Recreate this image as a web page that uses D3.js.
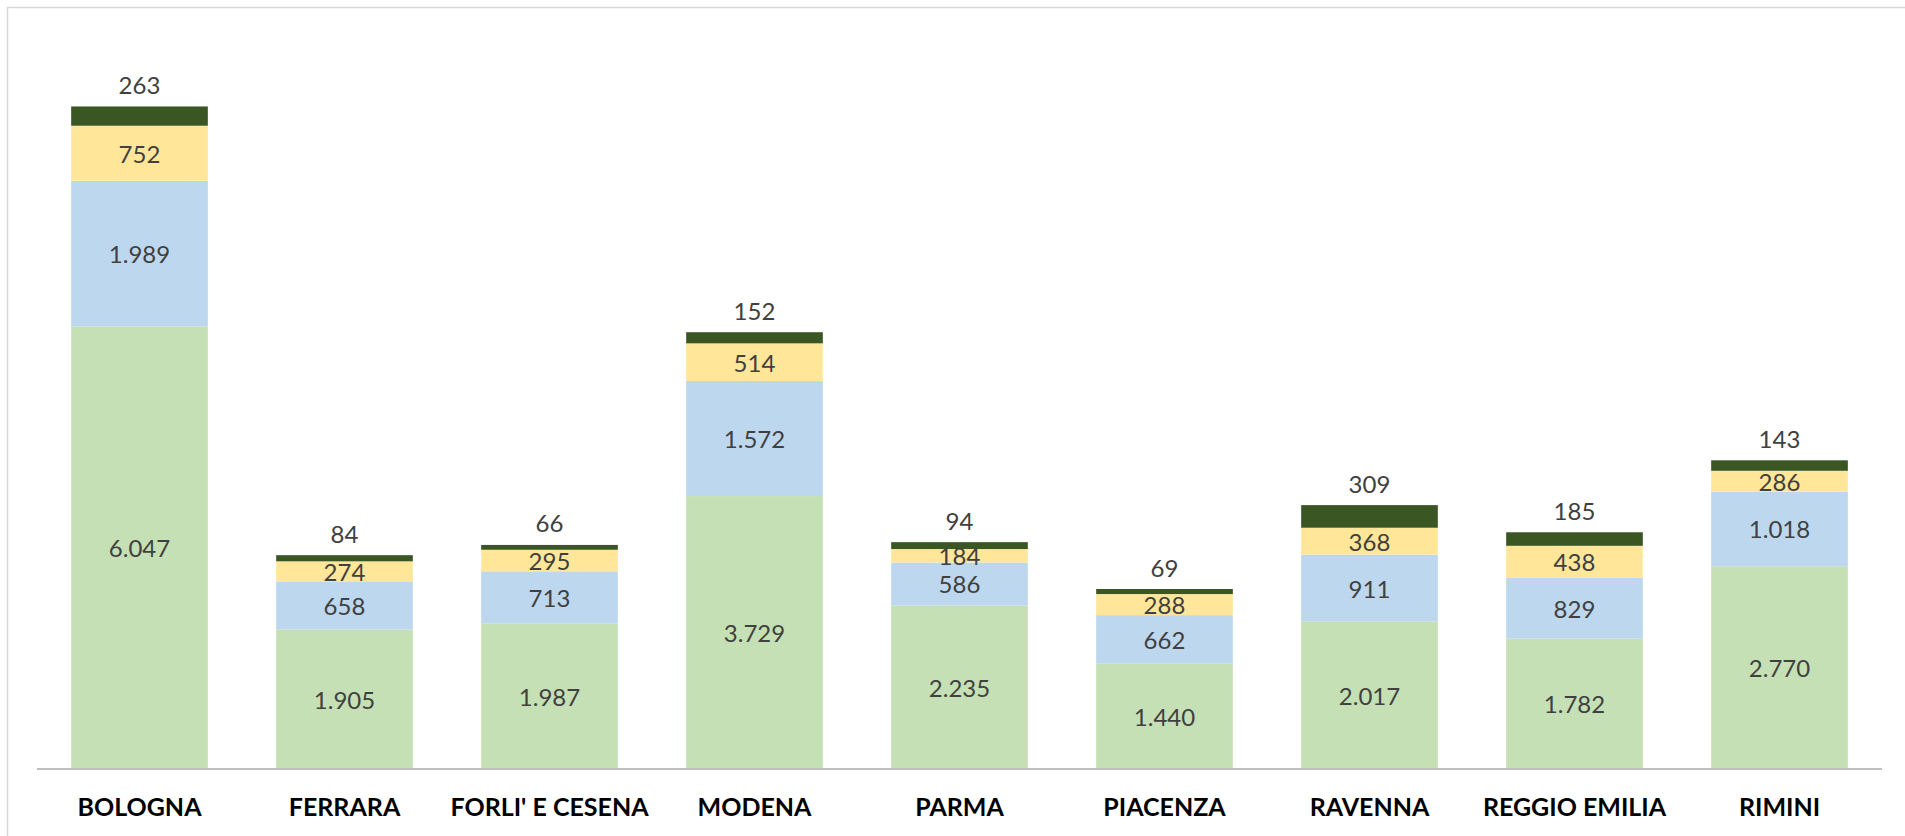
<!DOCTYPE html>
<html>
<head>
<meta charset="utf-8">
<script src="https://cdn.jsdelivr.net/npm/d3@7"></script>
<style>
  html, body { margin: 0; padding: 0; background: #ffffff; }
  svg { display: block; }
</style>
</head>
<body>
<svg id="chart" width="1905" height="836"></svg>
<script>
// ---- data ----
const categories = ["BOLOGNA", "FERRARA", "FORLI' E CESENA", "MODENA", "PARMA", "PIACENZA", "RAVENNA", "REGGIO EMILIA", "RIMINI"];
const seriesKeys = ["s1", "s2", "s3", "s4"];
const s1Values = [6047, 1905, 1987, 3729, 2235, 1440, 2017, 1782, 2770];
const s2Values = [1989, 658, 713, 1572, 586, 662, 911, 829, 1018];
const s3Values = [752, 274, 295, 514, 184, 288, 368, 438, 286];
const s4Values = [263, 84, 66, 152, 94, 69, 309, 185, 143];
const yDomainMax = 10000;

// ---- styles ----
const colors = { s1: "#C5E0B4", s2: "#BDD7EE", s3: "#FFE699", s4: "#3A5723" };
const labelColor = "#404040";

const rows = categories.map((c, i) => ({
  cat: c, s1: s1Values[i], s2: s2Values[i], s3: s3Values[i], s4: s4Values[i]
}));

const svg = d3.select("#chart");

// chart border (extends beyond the visible area on right/bottom)
svg.append("rect")
  .attr("x", 7.5).attr("y", 7.5)
  .attr("width", 1905).attr("height", 900)
  .attr("fill", "none").attr("stroke", "#D9D9D9").attr("stroke-width", 1.5);

const plot = { left: 37, right: 1882, top: 37, bottom: 769 };

const x = d3.scaleBand()
  .domain(categories)
  .range([plot.left, plot.right])
  .paddingInner(1/3)
  .paddingOuter(1/6);

const y = d3.scaleLinear()
  .domain([0, yDomainMax])
  .range([plot.bottom, plot.top]);

const stack = d3.stack().keys(seriesKeys);
const layers = stack(rows);

const g = svg.append("g");

layers.forEach(layer => {
  g.append("g").selectAll("rect")
    .data(layer)
    .join("rect")
    .attr("x", d => x(d.data.cat))
    .attr("width", x.bandwidth())
    .attr("y", d => y(d[1]))
    .attr("height", d => y(d[0]) - y(d[1]))
    .attr("fill", colors[layer.key]);
});

// labels: first three series centered, last series above stack
const fmt = v => d3.format(",")(v).replace(/,/g, ".");

layers.forEach((layer, li) => {
  const isTop = layer.key === "s4";
  g.append("g").selectAll("text")
    .data(layer)
    .join("text")
    .attr("x", d => x(d.data.cat) + x.bandwidth() / 2)
    .attr("y", d => isTop ? y(d[1]) - 22 : (y(d[0]) + y(d[1])) / 2)
    .attr("text-anchor", "middle")
    .attr("dominant-baseline", "central")
    .attr("font-family", "Lato, 'Open Sans', sans-serif")
    .attr("font-size", 24)
    .attr("fill", labelColor)
    .text(d => fmt(d[1] - d[0]));
});

// x axis
const xAxis = d3.axisBottom(x).tickSize(0).tickPadding(0);
const axisG = svg.append("g")
  .attr("transform", `translate(0,${plot.bottom})`)
  .call(xAxis);
axisG.select(".domain")
  .attr("stroke", "#BFBFBF")
  .attr("stroke-width", 2)
  .attr("d", `M${plot.left},0H${plot.right}`);
axisG.selectAll(".tick text")
  .attr("y", 47)
  .attr("dy", 0)
  .attr("font-family", "Lato, 'Open Sans', sans-serif")
  .attr("font-size", 25)
  .attr("font-weight", "bold")
  .attr("fill", "#000000");
</script>
</body>
</html>
